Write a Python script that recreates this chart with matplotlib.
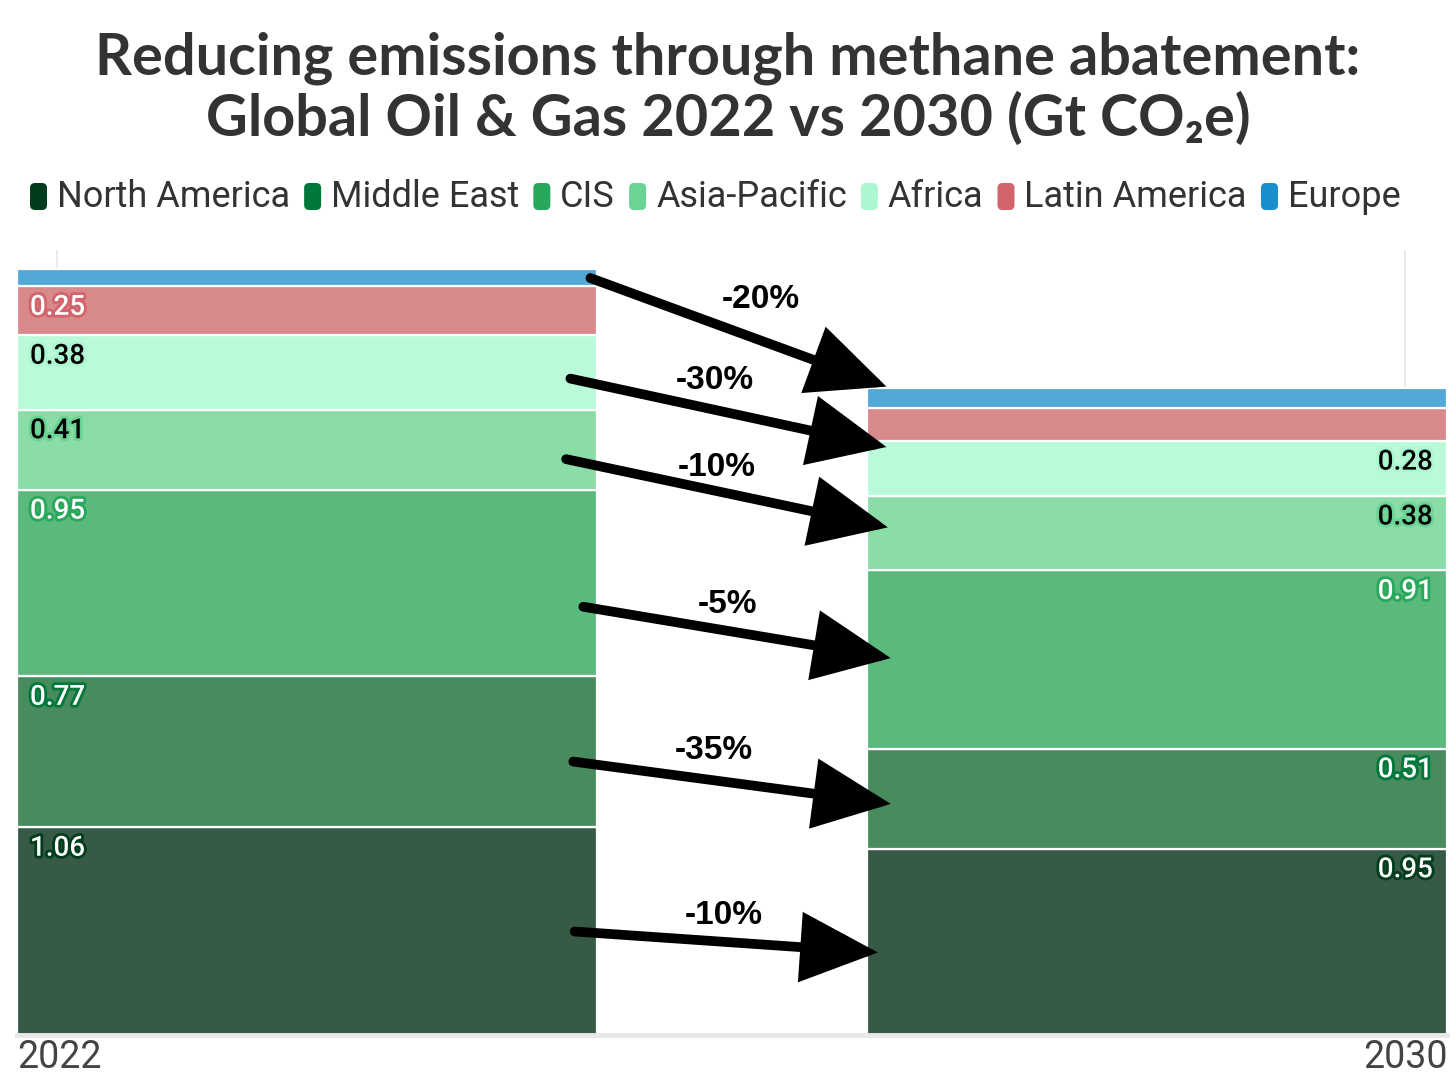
import matplotlib
matplotlib.use('Agg')
import matplotlib.pyplot as plt
import matplotlib.patheffects as pe
from matplotlib.patches import FancyBboxPatch, FancyArrowPatch
from matplotlib.transforms import IdentityTransform

# dados (Gt CO2e)
regions = ['North America', 'Middle East', 'CIS', 'Asia-Pacific', 'Africa', 'Latin America', 'Europe']
v2022 = [1.06, 0.77, 0.95, 0.41, 0.38, 0.25, 0.09]
v2030 = [0.95, 0.51, 0.91, 0.38, 0.28, 0.17, 0.10]
years = ['2022', '2030']
changes = ['-10%', '-35%', '-5%', '-10%', '-30%', '-20%']

legend_colors = ['#003d1c', '#00773b', '#27a85a', '#6bd394', '#abf7cf', '#d4646c', '#1a8fcb']
bar_colors = ['#365a46', '#478b5e', '#5aba7e', '#8bdda8', '#bbfad8', '#d7898c', '#52a9d7']
text_colors = ['white', 'white', 'white', 'black', 'black', 'white', 'white']

# setas (x em fração do eixo, y em Gt)
arrow_start = [(0.390, 0.528), (0.389, 1.395), (0.396, 2.185), (0.384, 2.938), (0.387, 3.349), (0.401, 3.862)]
arrow_end = [(0.602, 0.421), (0.611, 1.179), (0.611, 1.923), (0.609, 2.590), (0.608, 3.000), (0.608, 3.308)]
change_pos = [(0.494, 0.610), (0.487, 1.451), (0.497, 2.195), (0.489, 2.897), (0.488, 3.338), (0.520, 3.754)]

W, H = 1456, 1092
scale = 196  # px por Gt
fig = plt.figure(figsize=(W / 100, H / 100), dpi=100)
ax = fig.add_axes([17 / W, (H - 1035) / H, 1430 / W, 785 / H])
ax.set_xlim(0, 1)
ax.set_ylim(0, 785 / scale)

lefts = [0.0, 0.5944]
width = 0.4056

for x, vals in zip(lefts, [v2022, v2030]):
    bottom = 0
    for i, v in enumerate(vals):
        ax.bar(x, v, width=width, bottom=bottom, align='edge', color=bar_colors[i],
               edgecolor='white', linewidth=1.6, zorder=2)
        bottom += v

# rótulos de valores
def add_labels(vals, x, ha, nshow):
    bottom = 0
    for i, v in enumerate(vals):
        top = bottom + v
        if i < nshow:
            ax.text(x, top - 21 / scale, f'{v:.2f}', ha=ha, va='center', fontsize=20,
                    family='Roboto', weight='medium', color=text_colors[i], zorder=5,
                    path_effects=[pe.withStroke(linewidth=4, foreground=legend_colors[i])])
        bottom = top

add_labels(v2022, 13 / 1430, 'left', 6)
add_labels(v2030, 1 - 14 / 1430, 'right', 5)

# setas e porcentagens
for s, e, p, c in zip(arrow_start, arrow_end, change_pos, changes):
    arr = FancyArrowPatch(s, e, arrowstyle='-|>,head_length=4.4,head_width=2.0',
                          mutation_scale=10, color='black', linewidth=7,
                          shrinkA=0, shrinkB=0, capstyle='round', joinstyle='miter', zorder=6)
    ax.add_patch(arr)
    ax.text(p[0], p[1], c, ha='center', va='center', fontsize=24, weight='bold',
            family='Liberation Sans', color='black', zorder=7)

# grade e eixos
for gx in [40 / 1430, 1388 / 1430]:
    ax.axvline(gx, color='#e6e6e6', linewidth=1.2, zorder=1)
for sp in ['top', 'right', 'left']:
    ax.spines[sp].set_visible(False)
ax.spines['bottom'].set_color('#e8e8e8')
ax.spines['bottom'].set_linewidth(3.5)
ax.set_xticks([])
ax.set_yticks([])

fig.text(17 / W, 1 - 1057 / H, years[0], ha='left', va='center', fontsize=27,
         family='Roboto', color='#444444')
fig.text(1448 / W, 1 - 1057 / H, years[1], ha='right', va='center', fontsize=27,
         family='Roboto', color='#444444')

# título
fig.text(0.5, 1 - 58 / H, 'Reducing emissions through methane abatement:', ha='center', va='center',
         fontsize=41.5, weight='bold', family=['Lato', 'DejaVu Sans'], color='#333333')
fig.text(0.5, 1 - 119 / H, 'Global Oil & Gas 2022 vs 2030 (Gt CO₂e)', ha='center', va='center',
         fontsize=41.5, weight='bold', family=['Lato', 'DejaVu Sans'], color='#333333')

# legenda manual
renderer = fig.canvas.get_renderer()
xpos = 30
ly = H - 197
for name, col in zip(regions, legend_colors):
    box = FancyBboxPatch((xpos, ly - 13), 17, 27, boxstyle='round,pad=0,rounding_size=5',
                         facecolor=col, edgecolor='none', transform=IdentityTransform())
    fig.patches.append(box)
    t = fig.text((xpos + 27) / W, ly / H, name, ha='left', va='center', fontsize=26,
                 family='Roboto', color='#333333')
    bb = t.get_window_extent(renderer)
    xpos = bb.x1 + 14

fig.savefig('out.png', dpi=100)
